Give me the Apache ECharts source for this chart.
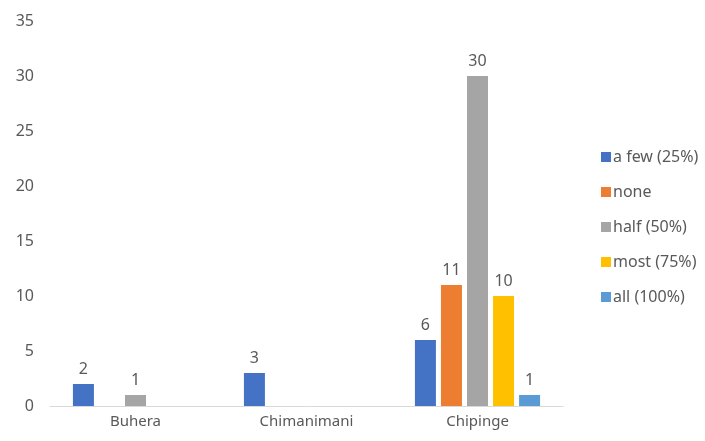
<!DOCTYPE html>
<html>
<head>
<meta charset="utf-8">
<script src="https://cdn.jsdelivr.net/npm/echarts@6/dist/echarts.min.js"></script>
<style>html,body{margin:0;padding:0;background:#fff;}#c{width:705px;height:441px;}</style>
</head>
<body>
<div id="c"></div>
<script>
const categories = ['Buhera', 'Chimanimani', 'Chipinge'];
const seriesNames = ['a few (25%)', 'none', 'half (50%)', 'most (75%)', 'all (100%)'];
const aFew = [2, 3, 6];
const none = [null, null, 11];
const half = [1, null, 30];
const most = [null, null, 10];
const all = [null, null, 1];
const colors = ['#4472C4', '#ED7D31', '#A5A5A5', '#FFC000', '#5B9BD5'];
const yTicks = [0, 5, 10, 15, 20, 25, 30, 35];

const values = [aFew, none, half, most, all];
const font = 'Noto Sans';
const chart = echarts.init(document.getElementById('c'));
chart.setOption({
  animation: false,
  textStyle: { fontFamily: font },
  grid: { left: 50, right: 142, top: 21, bottom: 35, containLabel: false },
  legend: {
    orient: 'vertical', left: 596, top: 144,
    itemWidth: 10, itemHeight: 10, itemGap: 19,
    icon: 'rect',
    textStyle: { color: '#595959', fontSize: 16, fontFamily: font, padding: [0,0,0,-3] },
    data: seriesNames
  },
  xAxis: {
    type: 'category', data: categories,
    axisLine: { lineStyle: { color: '#D9D9D9', width: 1 } },
    axisTick: { show: false },
    axisLabel: { color: '#595959', fontSize: 15, margin: 8, fontFamily: font }
  },
  yAxis: {
    type: 'value', min: yTicks[0], max: yTicks[yTicks.length - 1], interval: 5,
    axisLine: { show: false }, axisTick: { show: false },
    splitLine: { show: false },
    axisLabel: { color: '#595959', fontSize: 16, margin: 16, fontFamily: font }
  },
  series: seriesNames.map((n, i) => ({
    name: n, type: 'bar', data: values[i],
    barWidth: 21, barGap: '24%', barCategoryGap: '26%',
    itemStyle: { color: colors[i] },
    label: { show: true, position: 'top', distance: 7, color: '#595959', fontSize: 16, fontFamily: font }
  }))
});
</script>
</body>
</html>
